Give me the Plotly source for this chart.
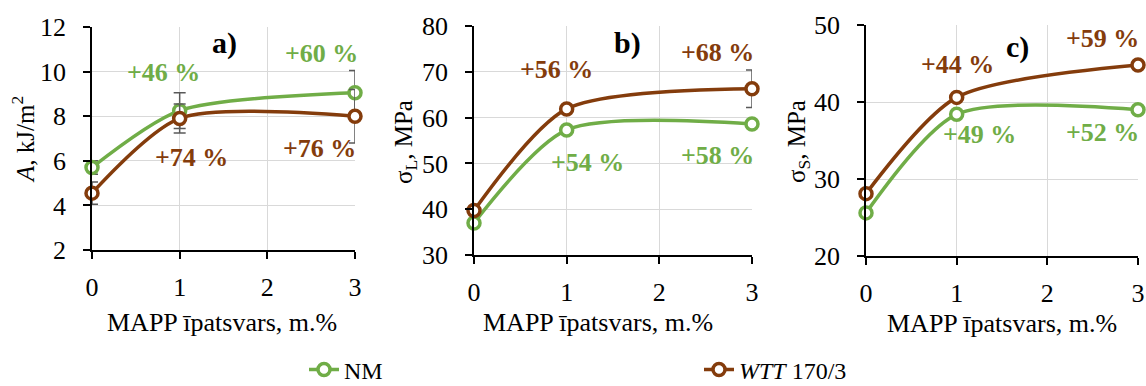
import plotly.graph_objects as go

W, H = 1146, 386

# MAPP content, m.%
mapp = [0, 1, 3]

# a) impact strength, kJ/m2
a_nm = [5.7, 8.25, 9.05]
a_nm_err = [0.3, 0.8, 1.0]
a_wtt = [4.55, 7.9, 8.0]
a_wtt_err = [0.5, 0.65, 1.2]

# b) flexural strength, MPa
b_nm = [37.0, 57.3, 58.6]
b_nm_err = [0, 0, 0]
b_wtt = [39.7, 61.9, 66.3]
b_wtt_err = [0, 0, 4.1]

# c) tensile strength, MPa
c_nm = [25.6, 38.4, 39.0]
c_wtt = [28.1, 40.6, 44.8]

# relative increase labels
a_nm_lbl = ["+46 %", "+60 %"]
a_wtt_lbl = ["+74 %", "+76 %"]
b_nm_lbl = ["+54 %", "+58 %"]
b_wtt_lbl = ["+56 %", "+68 %"]
c_nm_lbl = ["+49 %", "+52 %"]
c_wtt_lbl = ["+44 %", "+59 %"]

GREEN = "#70AD47"
BROWN = "#843C0C"
ERR = "#595959"
FONT = "Liberation Serif"
FS = 26

fig = go.Figure()


def series(x, y, color, name, xa, ya, err=None, show=False):
    kw = {}
    if err is not None:
        kw["error_y"] = dict(type="data", array=err, visible=True, color=ERR,
                             thickness=1.5, width=6)
    fig.add_trace(go.Scatter(
        x=x, y=y, mode="lines+markers", name=name, showlegend=show,
        legendgroup=name, xaxis=xa, yaxis=ya, cliponaxis=False,
        line=dict(color=color, width=3.5, shape="spline", smoothing=0.75),
        marker=dict(symbol="circle", size=12, color="white",
                    line=dict(color=color, width=3.5)),
        **kw))


series(mapp, a_nm, GREEN, "NM", "x", "y", a_nm_err, show=True)
series(mapp, a_wtt, BROWN, "<i>WTT</i> 170/3", "x", "y", a_wtt_err, show=True)
series(mapp, b_nm, GREEN, "NM", "x2", "y2", b_nm_err)
series(mapp, b_wtt, BROWN, "<i>WTT</i> 170/3", "x2", "y2", b_wtt_err)
series(mapp, c_nm, GREEN, "NM", "x3", "y3")
series(mapp, c_wtt, BROWN, "<i>WTT</i> 170/3", "x3", "y3")


def px_x(p):
    return p / W


def px_y(p):
    return 1 - p / H


axis_common = dict(
    showline=True, linecolor="black", linewidth=1.5,
    ticks="outside", ticklen=7, tickwidth=1.5, tickcolor="black",
    showgrid=True, gridcolor="#D9D9D9", gridwidth=1,
    zeroline=False, automargin=False,
    tickfont=dict(family=FONT, size=FS, color="black"),
)

panels = [
    # (x-domain px, y-domain px, y range, y dtick)
    ((92, 355), (27, 250), (2, 12), 2),
    ((474, 752), (26, 255), (30, 80), 10),
    ((866, 1138), (25, 256), (20, 50), 10),
]

for i, ((x0, x1), (yt, yb), yr, dt) in enumerate(panels):
    sfx = "" if i == 0 else str(i + 1)
    fig.update_layout(**{
        f"xaxis{sfx}": dict(axis_common, domain=[px_x(x0), px_x(x1)],
                            range=[0, 3], dtick=1, tick0=0,
                            anchor=f"y{sfx}", ticklabelstandoff=6),
        f"yaxis{sfx}": dict(axis_common, domain=[px_y(yb), px_y(yt)],
                            range=list(yr), dtick=dt, tick0=yr[0],
                            anchor=f"x{sfx}", ticklabelstandoff=12),
    })

ann = []


def txt(x, y, s, color, xr, yr, size=26, bold=True):
    ann.append(dict(x=x, y=y, xref=xr, yref=yr, text=f"<b>{s}</b>" if bold else s,
                    showarrow=False, xanchor="center", yanchor="middle",
                    font=dict(family=FONT, size=size, color=color)))


# panel letters
txt(1.506, 11.28, "a)", "black", "x", "y", size=30)
txt(1.656, 76.3, "b)", "black", "x2", "y2", size=30)
txt(1.67, 47.1, "c)", "black", "x3", "y3", size=30)

# percentage labels
txt(0.81, 9.98, a_nm_lbl[0], GREEN, "x", "y")
txt(2.62, 10.83, a_nm_lbl[1], GREEN, "x", "y")
txt(1.14, 6.17, a_wtt_lbl[0], BROWN, "x", "y")
txt(2.60, 6.53, a_wtt_lbl[1], BROWN, "x", "y")

txt(1.23, 50.1, b_nm_lbl[0], GREEN, "x2", "y2")
txt(2.63, 51.8, b_nm_lbl[1], GREEN, "x2", "y2")
txt(0.89, 70.4, b_wtt_lbl[0], BROWN, "x2", "y2")
txt(2.63, 74.3, b_wtt_lbl[1], BROWN, "x2", "y2")

txt(1.25, 35.8, c_nm_lbl[0], GREEN, "x3", "y3")
txt(2.61, 36.0, c_nm_lbl[1], GREEN, "x3", "y3")
txt(1.01, 44.9, c_wtt_lbl[0], BROWN, "x3", "y3")
txt(2.61, 48.2, c_wtt_lbl[1], BROWN, "x3", "y3")

# axis titles
xtitle = "MAPP īpatsvars, m.%"
for cx, cy in [(222, 322), (598, 322), (1002, 323)]:
    ann.append(dict(x=px_x(cx), y=px_y(cy), xref="paper", yref="paper",
                    text=xtitle, showarrow=False, xanchor="center",
                    yanchor="middle", font=dict(family=FONT, size=FS, color="black")))

ytitles = [
    ("<i>A</i>, kJ/m<sup>2</sup>", 23, 140),
    ("σ<sub>L</sub>, MPa", 405, 142),
    ("σ<sub>S</sub>, MPa", 798, 142),
]
for t, cx, cy in ytitles:
    ann.append(dict(x=px_x(cx), y=px_y(cy), xref="paper", yref="paper",
                    text=t, showarrow=False, textangle=-90, xanchor="center",
                    yanchor="middle", font=dict(family=FONT, size=25, color="black")))

fig.update_layout(
    width=W, height=H,
    margin=dict(l=0, r=0, t=0, b=0, autoexpand=False),
    paper_bgcolor="white", plot_bgcolor="white",
    annotations=ann,
    legend=dict(orientation="h", x=px_x(304), y=px_y(370),
                xanchor="left", yanchor="middle",
                font=dict(family=FONT, size=24, color="black"),
                entrywidth=350, entrywidthmode="pixels",
                bgcolor="rgba(0,0,0,0)"),
)

fig.write_html("out.html")
